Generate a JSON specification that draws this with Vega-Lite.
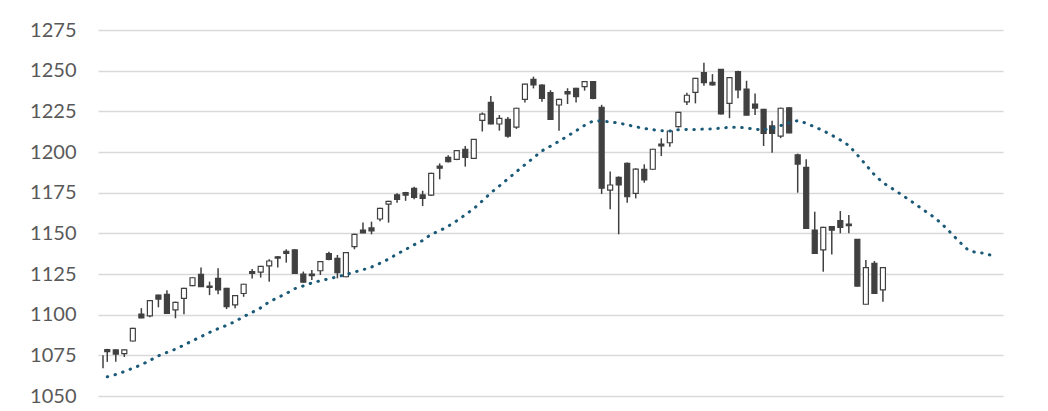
{
  "$schema": "https://vega.github.io/schema/vega-lite/v6.json",
  "width": 905,
  "height": 366,
  "autosize": "none",
  "padding": {"left": 98, "top": 30, "right": 45, "bottom": 15},
  "background": "#ffffff",
  "config": {
    "view": {"stroke": null},
    "axis": {
      "domain": false,
      "ticks": false,
      "grid": true,
      "gridColor": "#d9d9d9",
      "gridWidth": 1.3,
      "labelFont": "Lato",
      "labelFontSize": 20,
      "labelColor": "#595959",
      "labelPadding": 22,
      "title": null
    }
  },
  "datasets": {
    "candles": [
      {"k": 0.5, "o": 1067, "h": 1075, "l": 1067, "c": 1075},
      {"k": 1, "o": 1078.5, "h": 1079, "l": 1071, "c": 1077.3},
      {"k": 2, "o": 1078.3, "h": 1078.6, "l": 1071, "c": 1075.8},
      {"k": 3, "o": 1076, "h": 1078.6, "l": 1074, "c": 1078.3},
      {"k": 4, "o": 1083.8, "h": 1092, "l": 1083.5, "c": 1091.6},
      {"k": 5, "o": 1100.4, "h": 1104, "l": 1097.8, "c": 1098},
      {"k": 6, "o": 1099.2, "h": 1109, "l": 1098.4, "c": 1108.6},
      {"k": 7, "o": 1112, "h": 1112.3, "l": 1104.5, "c": 1109.6},
      {"k": 8, "o": 1112.5, "h": 1115, "l": 1100.5, "c": 1100.8},
      {"k": 9, "o": 1102.9, "h": 1108, "l": 1097.8, "c": 1107.6},
      {"k": 10, "o": 1110, "h": 1116.5, "l": 1100.2, "c": 1116.2},
      {"k": 11, "o": 1117.8, "h": 1123, "l": 1117.5, "c": 1122.7},
      {"k": 12, "o": 1124.8, "h": 1129, "l": 1117, "c": 1117.2},
      {"k": 13, "o": 1117.6, "h": 1120.3, "l": 1112, "c": 1116.8},
      {"k": 14, "o": 1122.3, "h": 1128.5, "l": 1112.5, "c": 1115.2},
      {"k": 15, "o": 1116.2, "h": 1116.5, "l": 1103.5, "c": 1105},
      {"k": 16, "o": 1106, "h": 1112, "l": 1104, "c": 1111.7},
      {"k": 17, "o": 1113, "h": 1119, "l": 1111, "c": 1118.7},
      {"k": 18, "o": 1126.5, "h": 1128, "l": 1122.3, "c": 1125.3},
      {"k": 19, "o": 1126.2, "h": 1130, "l": 1122.8, "c": 1129.7},
      {"k": 20, "o": 1130, "h": 1134, "l": 1120.3, "c": 1133},
      {"k": 21, "o": 1135.6, "h": 1136, "l": 1129, "c": 1134.8},
      {"k": 22, "o": 1139, "h": 1140.2, "l": 1132, "c": 1137.7},
      {"k": 23, "o": 1139.8, "h": 1140.2, "l": 1125, "c": 1125.4},
      {"k": 24, "o": 1125, "h": 1126.5, "l": 1119.8, "c": 1120},
      {"k": 25, "o": 1125, "h": 1127.5, "l": 1121.3, "c": 1124},
      {"k": 26, "o": 1127, "h": 1133, "l": 1124.4, "c": 1132.6},
      {"k": 27, "o": 1137.5, "h": 1138.7, "l": 1133.5, "c": 1134},
      {"k": 28, "o": 1134.6, "h": 1136.7, "l": 1122.3, "c": 1125.8},
      {"k": 29, "o": 1123.3, "h": 1138.5, "l": 1123, "c": 1138.1},
      {"k": 30, "o": 1141.8, "h": 1149.8, "l": 1140.2, "c": 1149.4},
      {"k": 31, "o": 1152, "h": 1156.6, "l": 1150, "c": 1150.2},
      {"k": 32, "o": 1153.3, "h": 1157.2, "l": 1149.4, "c": 1151.5},
      {"k": 33, "o": 1158.8, "h": 1165.8, "l": 1157.5, "c": 1165.4},
      {"k": 34, "o": 1168, "h": 1170, "l": 1156.6, "c": 1169.6},
      {"k": 35, "o": 1173.7, "h": 1174.6, "l": 1168.8, "c": 1170.8},
      {"k": 36, "o": 1175, "h": 1175.5, "l": 1170, "c": 1173.5},
      {"k": 37, "o": 1177.6, "h": 1178.7, "l": 1171, "c": 1172.1},
      {"k": 38, "o": 1173.6, "h": 1176.2, "l": 1166.8, "c": 1171.5},
      {"k": 39, "o": 1173.5, "h": 1187.2, "l": 1173, "c": 1186.9},
      {"k": 40, "o": 1191.4, "h": 1193, "l": 1183.2, "c": 1190},
      {"k": 41, "o": 1196.7, "h": 1198, "l": 1193.6, "c": 1194},
      {"k": 42, "o": 1195.5, "h": 1201, "l": 1195, "c": 1200.8},
      {"k": 43, "o": 1201.7, "h": 1203.7, "l": 1191, "c": 1196.7},
      {"k": 44, "o": 1196.1, "h": 1208, "l": 1196, "c": 1207.8},
      {"k": 45, "o": 1219.4, "h": 1224.3, "l": 1212.6, "c": 1223.3},
      {"k": 46, "o": 1230.5, "h": 1234.4, "l": 1217, "c": 1217.2},
      {"k": 47, "o": 1217.2, "h": 1222.7, "l": 1213.1, "c": 1220.7},
      {"k": 48, "o": 1220.1, "h": 1221.5, "l": 1208.8, "c": 1209.8},
      {"k": 49, "o": 1215.3, "h": 1227.2, "l": 1214.2, "c": 1226.9},
      {"k": 50, "o": 1232.4, "h": 1242, "l": 1230.5, "c": 1241.7},
      {"k": 51, "o": 1244.7, "h": 1246.3, "l": 1239.1, "c": 1241.2},
      {"k": 52, "o": 1241.2, "h": 1241.6, "l": 1230.9, "c": 1233},
      {"k": 53, "o": 1236.5, "h": 1238, "l": 1220, "c": 1220.1},
      {"k": 54, "o": 1228.9, "h": 1232.8, "l": 1213.1, "c": 1232.4},
      {"k": 55, "o": 1237.1, "h": 1239.2, "l": 1229.5, "c": 1235.7},
      {"k": 56, "o": 1239.2, "h": 1239.5, "l": 1230.5, "c": 1234.1},
      {"k": 57, "o": 1240.2, "h": 1243.6, "l": 1237.7, "c": 1243.3},
      {"k": 58, "o": 1243.3, "h": 1243.6, "l": 1232.4, "c": 1233},
      {"k": 59, "o": 1227.5, "h": 1229, "l": 1174.2, "c": 1177.7},
      {"k": 60, "o": 1176.6, "h": 1188, "l": 1164.8, "c": 1179.7},
      {"k": 61, "o": 1184.4, "h": 1185, "l": 1149.4, "c": 1179.7},
      {"k": 62, "o": 1193, "h": 1193.5, "l": 1168.8, "c": 1172.5},
      {"k": 63, "o": 1174.6, "h": 1190, "l": 1171.5, "c": 1189.5},
      {"k": 64, "o": 1189.4, "h": 1192.4, "l": 1181.1, "c": 1182.8},
      {"k": 65, "o": 1189.4, "h": 1202, "l": 1189, "c": 1201.7},
      {"k": 66, "o": 1204.9, "h": 1208.4, "l": 1197.5, "c": 1203.7},
      {"k": 67, "o": 1205.7, "h": 1213.2, "l": 1203.3, "c": 1212.9},
      {"k": 68, "o": 1215.6, "h": 1224.7, "l": 1215, "c": 1224.4},
      {"k": 69, "o": 1230.8, "h": 1236.4, "l": 1228.9, "c": 1234.9},
      {"k": 70, "o": 1236.7, "h": 1245.6, "l": 1229.9, "c": 1245.3},
      {"k": 71, "o": 1248.8, "h": 1254.9, "l": 1240.7, "c": 1242.6},
      {"k": 72, "o": 1242.8, "h": 1247.9, "l": 1240.8, "c": 1241.2},
      {"k": 73, "o": 1250.8, "h": 1251, "l": 1223, "c": 1223.4},
      {"k": 74, "o": 1229.9, "h": 1246, "l": 1220.8, "c": 1245.7},
      {"k": 75, "o": 1249.5, "h": 1250, "l": 1233, "c": 1238.1},
      {"k": 76, "o": 1238.7, "h": 1243.8, "l": 1222.5, "c": 1222.7},
      {"k": 77, "o": 1229.5, "h": 1236, "l": 1222.7, "c": 1227},
      {"k": 78, "o": 1226.2, "h": 1226.5, "l": 1203.7, "c": 1211.5},
      {"k": 79, "o": 1216, "h": 1219.2, "l": 1199.6, "c": 1211.5},
      {"k": 80, "o": 1209.8, "h": 1227.3, "l": 1208.5, "c": 1226.9},
      {"k": 81, "o": 1227.2, "h": 1227.5, "l": 1211.5, "c": 1211.8},
      {"k": 82, "o": 1198.2, "h": 1199, "l": 1175, "c": 1192.6},
      {"k": 83, "o": 1190.5, "h": 1195.5, "l": 1153, "c": 1153.1},
      {"k": 84, "o": 1152, "h": 1163.3, "l": 1137.5, "c": 1137.7},
      {"k": 85, "o": 1139.8, "h": 1154, "l": 1126.4, "c": 1153.7},
      {"k": 86, "o": 1154.1, "h": 1154.5, "l": 1137, "c": 1152},
      {"k": 87, "o": 1157.8, "h": 1163.7, "l": 1150, "c": 1153.7},
      {"k": 88, "o": 1155.7, "h": 1161.3, "l": 1150, "c": 1154.7},
      {"k": 89, "o": 1146.3, "h": 1146.5, "l": 1117.4, "c": 1117.6},
      {"k": 90, "o": 1106.4, "h": 1133.6, "l": 1106.2, "c": 1128.9},
      {"k": 91, "o": 1131.5, "h": 1133, "l": 1112.8, "c": 1113.1},
      {"k": 92, "o": 1115.2, "h": 1129.2, "l": 1108, "c": 1128.9}
    ],
    "ma": [
      {"k": 1, "ma": 1061.8}, {"k": 2, "ma": 1063.2}, {"k": 3, "ma": 1065.0}, {"k": 4, "ma": 1067.1},
      {"k": 5, "ma": 1069.2}, {"k": 6, "ma": 1071.9}, {"k": 7, "ma": 1074.7}, {"k": 8, "ma": 1076.8},
      {"k": 9, "ma": 1078.8}, {"k": 10, "ma": 1081.3}, {"k": 11, "ma": 1084.0}, {"k": 12, "ma": 1086.5},
      {"k": 13, "ma": 1089.1}, {"k": 14, "ma": 1091.4}, {"k": 15, "ma": 1093.4}, {"k": 16, "ma": 1095.8},
      {"k": 17, "ma": 1098.8}, {"k": 18, "ma": 1101.4}, {"k": 19, "ma": 1104.2}, {"k": 20, "ma": 1107.9},
      {"k": 21, "ma": 1110.5}, {"k": 22, "ma": 1113.0}, {"k": 23, "ma": 1116.0}, {"k": 24, "ma": 1117.7},
      {"k": 25, "ma": 1119.5}, {"k": 26, "ma": 1120.9}, {"k": 27, "ma": 1122.0}, {"k": 28, "ma": 1123.3},
      {"k": 29, "ma": 1124.6}, {"k": 30, "ma": 1126.2}, {"k": 31, "ma": 1127.6}, {"k": 32, "ma": 1129.3},
      {"k": 33, "ma": 1131.6}, {"k": 34, "ma": 1134.2}, {"k": 35, "ma": 1137.3}, {"k": 36, "ma": 1140.1},
      {"k": 37, "ma": 1143.0}, {"k": 38, "ma": 1145.6}, {"k": 39, "ma": 1149.4}, {"k": 40, "ma": 1151.6},
      {"k": 41, "ma": 1154.4}, {"k": 42, "ma": 1157.7}, {"k": 43, "ma": 1161.4}, {"k": 44, "ma": 1165.2},
      {"k": 45, "ma": 1169.9}, {"k": 46, "ma": 1174.9}, {"k": 47, "ma": 1179.1}, {"k": 48, "ma": 1183.5},
      {"k": 49, "ma": 1187.9}, {"k": 50, "ma": 1192.2}, {"k": 51, "ma": 1196.4}, {"k": 52, "ma": 1200.7},
      {"k": 53, "ma": 1203.6}, {"k": 54, "ma": 1206.6}, {"k": 55, "ma": 1209.8}, {"k": 56, "ma": 1213.0},
      {"k": 57, "ma": 1216.4}, {"k": 58, "ma": 1219.1}, {"k": 59, "ma": 1219.0}, {"k": 60, "ma": 1218.5},
      {"k": 61, "ma": 1217.8}, {"k": 62, "ma": 1216.7}, {"k": 63, "ma": 1215.5}, {"k": 64, "ma": 1214.5},
      {"k": 65, "ma": 1213.7}, {"k": 66, "ma": 1213.1}, {"k": 67, "ma": 1212.9}, {"k": 68, "ma": 1213.7},
      {"k": 69, "ma": 1213.9}, {"k": 70, "ma": 1213.9}, {"k": 71, "ma": 1214.1}, {"k": 72, "ma": 1214.2},
      {"k": 73, "ma": 1214.7}, {"k": 74, "ma": 1215.2}, {"k": 75, "ma": 1215.2}, {"k": 76, "ma": 1214.8},
      {"k": 77, "ma": 1214.0}, {"k": 78, "ma": 1213.6}, {"k": 79, "ma": 1214.6}, {"k": 80, "ma": 1216.2},
      {"k": 81, "ma": 1217.9}, {"k": 82, "ma": 1219.3}, {"k": 83, "ma": 1217.7}, {"k": 84, "ma": 1215.4},
      {"k": 85, "ma": 1213.1}, {"k": 86, "ma": 1210.3}, {"k": 87, "ma": 1207.4}, {"k": 88, "ma": 1204.0},
      {"k": 89, "ma": 1198.2}, {"k": 90, "ma": 1192.1}, {"k": 91, "ma": 1186.0}, {"k": 92, "ma": 1181.1},
      {"k": 93, "ma": 1177.8}, {"k": 94, "ma": 1174.4}, {"k": 95, "ma": 1170.9}, {"k": 96, "ma": 1167.2},
      {"k": 97, "ma": 1163.5}, {"k": 98, "ma": 1159.9}, {"k": 99, "ma": 1155.4}, {"k": 100, "ma": 1150.1},
      {"k": 101, "ma": 1144.6}, {"k": 102, "ma": 1139.7}, {"k": 103, "ma": 1138.1}, {"k": 104, "ma": 1137.8},
      {"k": 105, "ma": 1135.8}
    ]
  },
  "layer": [
    {
      "data": {"name": "candles"},
      "mark": {"type": "rule", "color": "#404040", "strokeWidth": 1.5, "clip": true},
      "encoding": {
        "x": {"field": "k", "type": "quantitative", "scale": {"domain": [0.5, 105.5], "nice": false, "zero": false}, "axis": null},
        "y": {"field": "l", "type": "quantitative", "scale": {"domain": [1050, 1275], "nice": false, "zero": false},
              "axis": {"values": [1050, 1075, 1100, 1125, 1150, 1175, 1200, 1225, 1250, 1275], "format": "d"}},
        "y2": {"field": "h"}
      }
    },
    {
      "data": {"name": "candles"},
      "transform": [{"filter": "datum.k >= 1"}],
      "mark": {"type": "bar", "size": 5, "stroke": "#404040", "strokeWidth": 1.2, "clip": true},
      "encoding": {
        "x": {"field": "k", "type": "quantitative"},
        "y": {"field": "o", "type": "quantitative"},
        "y2": {"field": "c"},
        "fill": {"condition": {"test": "datum.o > datum.c", "value": "#404040"}, "value": "#ffffff"}
      }
    },
    {
      "data": {"name": "ma"},
      "mark": {"type": "line", "color": "#1a5a78", "strokeWidth": 3, "strokeDash": [0.5, 7.5], "strokeCap": "round", "clip": true},
      "encoding": {
        "x": {"field": "k", "type": "quantitative"},
        "y": {"field": "ma", "type": "quantitative"}
      }
    }
  ]
}
